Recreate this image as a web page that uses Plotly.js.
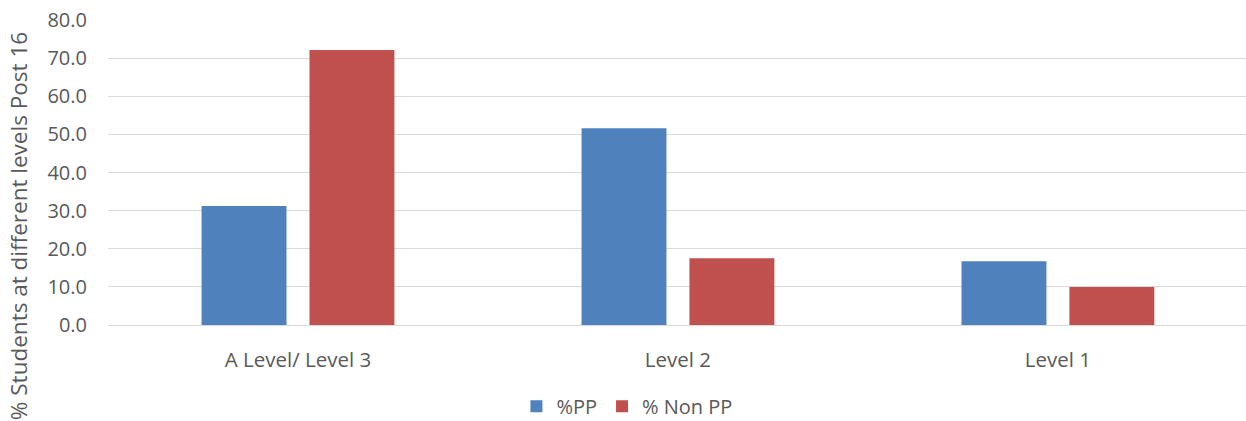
<!DOCTYPE html>
<html>
<head>
<meta charset="utf-8">
<script src="https://cdn.plot.ly/plotly-3.0.1.min.js"></script>
<style>html,body{margin:0;padding:0;background:#fff;}#chart{width:1246px;height:421px;}</style>
</head>
<body>
<div id="chart"></div>
<script>
const categories = ["A Level/ Level 3", "Level 2", "Level 1"];
const seriesNames = ["%PP", "% Non PP"];
const ppValues = [31.2, 51.6, 16.7];
const nonPpValues = [72.1, 17.5, 10.0];
const yTickValues = [0, 10, 20, 30, 40, 50, 60, 70, 80];
const yTitle = "% Students at different levels Post 16";

const fontFamily = "'Open Sans', 'Noto Sans', sans-serif";
const textColor = "#595959";

const traces = [
  {type: "bar", name: seriesNames[0], x: categories, y: ppValues,
   marker: {color: "#4f81bd"}},
  {type: "bar", name: seriesNames[1], x: categories, y: nonPpValues,
   marker: {color: "#c0504d"}}
];

const layout = {
  width: 1246, height: 421,
  margin: {l: 108, r: 0, t: 20, b: 96, autoexpand: false},
  paper_bgcolor: "#ffffff", plot_bgcolor: "#ffffff",
  font: {family: fontFamily, size: 20, color: textColor},
  barmode: "group", bargap: 0.432, bargroupgap: 0.213,
  showlegend: true,
  legend: {orientation: "h", x: 0.456, xanchor: "center", y: -0.33, yanchor: "bottom",
           font: {size: 20, color: textColor}, itemclick: false, tracegroupgap: 0,
           borderwidth: 0, bgcolor: "rgba(0,0,0,0)"},
  xaxis: {type: "category", range: [-0.5, 2.495], showgrid: false, showline: false,
          zeroline: false, ticks: "", ticklabelstandoff: 20,
          tickfont: {size: 20.5, color: textColor}, fixedrange: true},
  yaxis: {range: [0, 80], tickvals: yTickValues, tickformat: ".1f", showgrid: true,
          gridcolor: "#d9d9d9", gridwidth: 1, zeroline: true, zerolinecolor: "#d9d9d9",
          zerolinewidth: 1, showline: false, ticks: "", ticklabelstandoff: 20,
          tickfont: {size: 20, color: textColor}, fixedrange: true},
  annotations: [{
    text: yTitle, textangle: -90, showarrow: false,
    xref: "paper", yref: "paper", x: -0.079, y: 0.967,
    xanchor: "center", yanchor: "top",
    font: {size: 22.5, color: textColor, family: fontFamily}
  }]
};

Plotly.newPlot("chart", traces, layout, {displayModeBar: false, staticPlot: true});
</script>
</body>
</html>
